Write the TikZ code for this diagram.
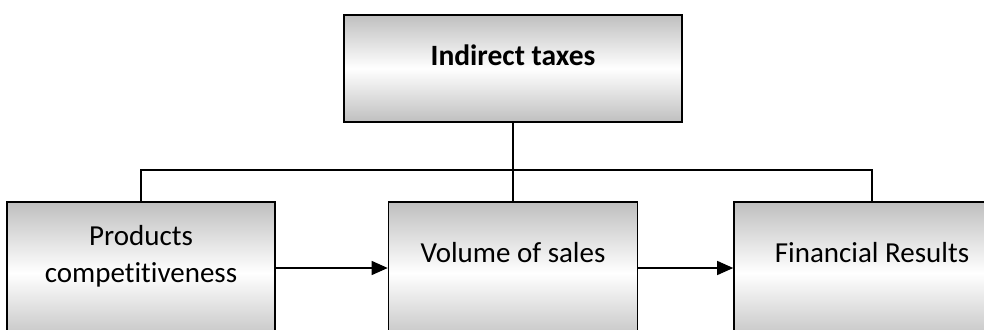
\documentclass[tikz,border=0pt]{standalone}
\usepackage{fontspec}
\setmainfont{Carlito}[Ligatures=NoCommon]
\usetikzlibrary{arrows.meta}

\tikzset{
  box/.style={draw=black, line width=1.6pt,
    top color=gray!50, bottom color=gray!50, middle color=white,
    align=center, text height=0pt,
    font=\fontsize{29}{37}\selectfont},
  link/.style={line width=1.3pt},
  arr/.style={link, -{Triangle[length=16pt,width=14pt]}}
}

\begin{document}
\begin{tikzpicture}[x=1pt,y=1pt]
    \useasboundingbox (0,0) rectangle (984,-329);
    \clip (0,0) rectangle (984,-329);
    \node[box, minimum width=338pt, minimum height=107pt, text depth=7pt,
          font=\fontsize{29.5}{35}\selectfont\bfseries] (tax) at (513,-68.5) {Indirect taxes};
    \node[box, minimum width=268pt, minimum height=142pt, text height=18pt, text depth=0pt] (comp) at (141,-273) {Products\\competitiveness};
    \node[box, minimum width=249pt, minimum height=142pt, text depth=22pt] (sales) at (513,-273) {Volume of sales};
    \node[box, minimum width=276pt, minimum height=142pt, text depth=22pt] (fin) at (872,-273) {Financial Results};
    \coordinate (bar) at (0,-170);
    % tree from the top box down to the three others
    \draw[link] (tax.south) -- (sales.north);
    \draw[link] (comp.north) |- (bar -| fin.north) -- (fin.north);
    % chain along the bottom row
    \draw[arr] ([yshift=5pt]comp.east) -- ([yshift=5pt]sales.west);
    \draw[arr] ([yshift=5pt]sales.east) -- ([yshift=5pt]fin.west);
\end{tikzpicture}
\end{document}
